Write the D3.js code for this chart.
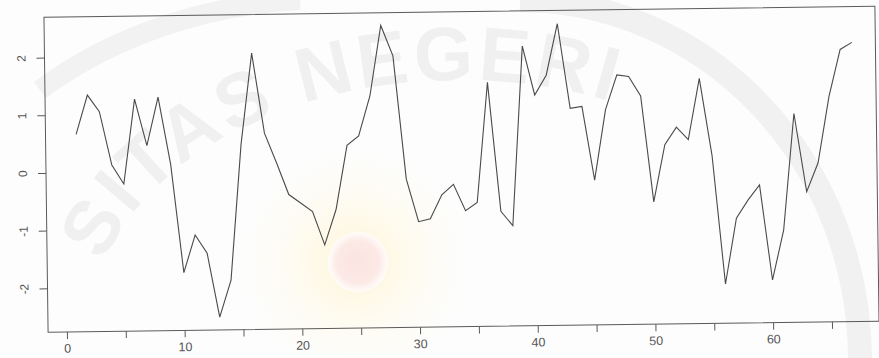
<!DOCTYPE html>
<html>
<head>
<meta charset="utf-8">
<script src="https://cdn.jsdelivr.net/npm/d3@7"></script>
<style>
  body { margin: 0; background: #fdfdfd; }
  svg { display: block; }
  text { font-family: "Liberation Sans", Arial, sans-serif; }
</style>
</head>
<body>
<svg id="chart"></svg>
<script>
//Chart size
var svgWidth = 879;
var svgHeight = 358;

//Series values, one per time index
var values = [0.66, 1.34, 1.05, 0.12, -0.21, 1.26, 0.45, 1.29, 0.12, -1.76,
  -1.11, -1.43, -2.54, -1.90, 0.45, 2.03, 0.64, 0.12, -0.43, -0.58,
  -0.73, -1.31, -0.70, 0.41, 0.57, 1.26, 2.48, 1.95, -0.19, -0.93,
  -0.88, -0.47, -0.29, -0.75, -0.61, 1.47, -0.77, -1.02, 2.09, 1.24,
  1.58, 2.47, 1.00, 1.03, -0.25, 0.97, 1.57, 1.54, 1.20, -0.64,
  0.35, 0.65, 0.43, 1.49, 0.15, -2.08, -0.94, -0.63, -0.37, -2.02,
  -1.16, 0.86, -0.50, 0.00, 1.15, 1.96, 2.08];

//Axis ticks
var xTicks = [0, 5, 10, 15, 20, 25, 30, 35, 40, 45, 50, 55, 60, 65];
var xLabels = [0, 10, 20, 30, 40, 50, 60];
var yTicks = [-2, -1, 0, 1, 2];

//Plot box (the scan is slightly tilted, so everything gets rotated a bit)
var box = {left: 46, right: 877, top: 12, bottom: 327};
var tilt = -0.75;

var lineColor = "#4a4a4a";
var axisColor = "#5a5a5a";
var labelColor = "#555";

var svg = d3.select("#chart")
  .attr("width", svgWidth)
  .attr("height", svgHeight);

// faint watermark behind the plot
var defs = svg.append("defs");
var glow = defs.append("radialGradient").attr("id", "glow");
glow.append("stop").attr("offset", "0%").attr("stop-color", "#fff4cf").attr("stop-opacity", 0.85);
glow.append("stop").attr("offset", "100%").attr("stop-color", "#fffbea").attr("stop-opacity", 0);
var dot = defs.append("radialGradient").attr("id", "dot");
dot.append("stop").attr("offset", "0%").attr("stop-color", "#fbe3e0");
dot.append("stop").attr("offset", "70%").attr("stop-color", "#fce9e6");
dot.append("stop").attr("offset", "100%").attr("stop-color", "#fffdfa");
defs.append("path")
  .attr("id", "arcPath")
  .attr("d", "M 90 330 A 370 250 0 0 1 830 330");

var mark = svg.append("g").attr("class", "watermark");
mark.append("path")
  .attr("d", "M 40 90 A 420 330 0 0 1 300 0")
  .attr("fill", "none")
  .attr("stroke", "#f2f2f2")
  .attr("stroke-width", 20);
mark.append("path")
  .attr("d", "M 520 0 A 340 360 0 0 1 860 358")
  .attr("fill", "none")
  .attr("stroke", "#f1f1f1")
  .attr("stroke-width", 24);
mark.append("text")
  .attr("font-size", 76)
  .attr("font-weight", "bold")
  .attr("letter-spacing", 4)
  .attr("fill", "#f0f0f0")
  .append("textPath")
  .attr("href", "#arcPath")
  .attr("startOffset", "7%")
  .text("SITAS NEGERI");
mark.append("circle")
  .attr("cx", 355).attr("cy", 262).attr("r", 115)
  .attr("fill", "url(#glow)");
mark.append("circle")
  .attr("cx", 358).attr("cy", 262).attr("r", 30)
  .attr("fill", "url(#dot)");

var plot = svg.append("g")
  .attr("transform", "rotate(" + tilt + "," + svgWidth / 2 + ",170)");

//Scales
var x = d3.scaleLinear().domain([-1.6, 69.0]).range([box.left, box.right]);
var y = d3.scaleLinear().domain([-2.76, 2.70]).range([box.bottom, box.top]);

//Box
plot.append("rect")
  .attr("x", box.left)
  .attr("y", box.top)
  .attr("width", box.right - box.left)
  .attr("height", box.bottom - box.top)
  .attr("fill", "none")
  .attr("stroke", axisColor)
  .attr("stroke-width", 1);

//X axis: ticks every 5, labels every 10
var xAxis = d3.axisBottom(x)
  .tickValues(xTicks)
  .tickSize(7)
  .tickFormat(function(d) { return xLabels.indexOf(d) >= 0 ? d : ""; });
var gx = plot.append("g")
  .attr("transform", "translate(0," + box.bottom + ")")
  .call(xAxis);
gx.select(".domain").remove();
gx.selectAll("line").attr("stroke", axisColor);
gx.selectAll("text")
  .attr("y", 12)
  .attr("fill", labelColor)
  .attr("font-size", 12.5);

//Y axis, labels turned sideways
var yAxis = d3.axisLeft(y)
  .tickValues(yTicks)
  .tickSize(8)
  .tickFormat(function(d) { return d; });
var gy = plot.append("g")
  .attr("transform", "translate(" + box.left + ",0)")
  .call(yAxis);
gy.select(".domain").remove();
gy.selectAll("line").attr("stroke", axisColor);
gy.selectAll("text")
  .attr("x", 0)
  .attr("dy", 0)
  .attr("text-anchor", "middle")
  .attr("transform", "translate(-19,0) rotate(-90)")
  .attr("fill", labelColor)
  .attr("font-size", 12);

//The series
var line = d3.line()
  .x(function(d, i) { return x(i + 1); })
  .y(function(d) { return y(d); });

plot.append("path")
  .datum(values)
  .attr("d", line)
  .attr("fill", "none")
  .attr("stroke", lineColor)
  .attr("stroke-width", 1.1)
  .attr("stroke-linejoin", "miter");
</script>
</body>
</html>
